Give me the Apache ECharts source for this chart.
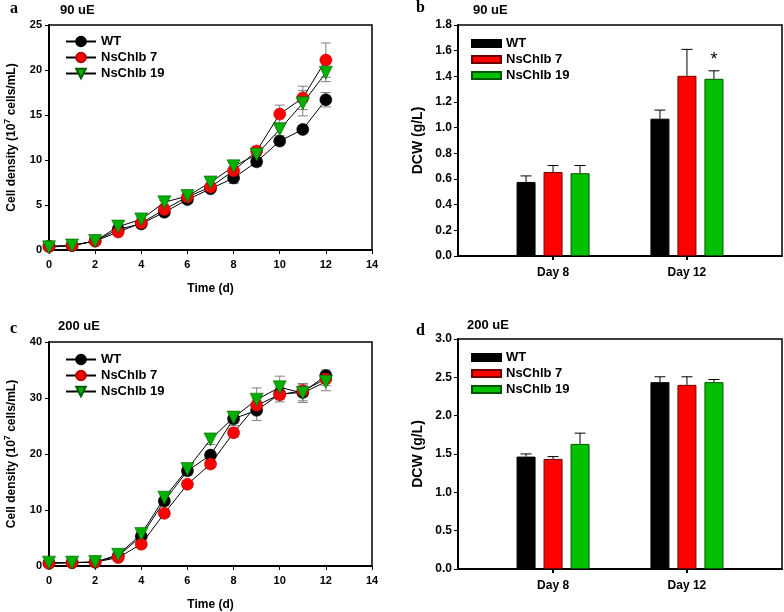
<!DOCTYPE html>
<html>
<head>
    <meta charset="UTF-8">
    <title>Growth and DCW</title>
    <style>
        html, body {
            height: 100%;
            width: 100%;
            margin: 0;
            padding: 0;
            background: #fff;
        }
    </style>
    <script src="https://cdn.jsdelivr.net/npm/echarts@6/dist/echarts.min.js"></script>
</head>
<body>
<div id="main" style="width: 784px; height: 612px;"></div>

<script type="text/javascript">
    // 时间轴 (d)
    var days = [0, 1, 2, 3, 4, 5, 6, 7, 8, 9, 10, 11, 12];
    var names = ['WT', 'NsChlb 7', 'NsChlb 19'];
    var dayCats = ['Day 8', 'Day 12'];

    // a: 90 uE cell density
    var wtA = [0.4, 0.5, 1.0, 2.3, 2.9, 4.2, 5.6, 6.8, 8.0, 9.8, 12.1, 13.4, 16.7];
    var n7A = [0.4, 0.5, 1.0, 2.0, 3.0, 4.5, 5.9, 7.0, 8.8, 11.0, 15.1, 16.9, 21.1];
    var n19A = [0.3, 0.5, 1.0, 2.6, 3.4, 5.3, 6.0, 7.5, 9.3, 10.6, 13.4, 16.3, 19.7];
    var wtAErr = [0.1, 0.1, 0.1, 0.2, 0.2, 0.3, 0.4, 0.3, 0.6, 0.5, 0.4, 0.3, 0.8];
    var n7AErr = [0.1, 0.1, 0.1, 0.2, 0.2, 0.3, 0.3, 0.3, 0.5, 0.5, 1.0, 1.3, 1.9];
    var n19AErr = [0.1, 0.1, 0.1, 0.2, 0.2, 0.2, 0.3, 0.4, 0.3, 0.4, 0.7, 1.4, 1.0];

    // c: 200 uE cell density
    var wtC = [0.5, 0.6, 0.7, 1.8, 5.3, 11.6, 17.0, 19.8, 26.3, 27.8, 30.7, 31.0, 34.0];
    var n7C = [0.5, 0.6, 0.7, 1.5, 3.9, 9.4, 14.6, 18.2, 23.8, 28.7, 30.6, 31.3, 33.4];
    var n19C = [0.6, 0.6, 0.7, 2.0, 5.7, 12.2, 17.3, 22.6, 26.5, 29.7, 31.9, 30.9, 32.9];
    var wtCErr = [0.2, 0.2, 0.2, 0.3, 0.5, 0.6, 0.8, 0.7, 1.2, 1.8, 1.0, 1.5, 1.0];
    var n7CErr = [0.2, 0.2, 0.2, 0.3, 0.4, 0.5, 0.6, 0.6, 0.8, 1.2, 1.3, 1.0, 1.2];
    var n19CErr = [0.2, 0.2, 0.2, 0.3, 0.5, 0.6, 0.7, 0.9, 1.0, 2.1, 2.0, 1.7, 1.6];

    // b: 90 uE DCW
    var wtB = [0.577, 1.07];
    var n7B = [0.655, 1.404];
    var n19B = [0.645, 1.381];
    var wtBErr = [0.047, 0.067];
    var n7BErr = [0.05, 0.206];
    var n19BErr = [0.06, 0.062];
    var n19BSig = ['', '*'];

    // d: 200 uE DCW
    var wtD = [1.466, 2.437];
    var n7D = [1.436, 2.402];
    var n19D = [1.632, 2.437];
    var wtDErr = [0.035, 0.07];
    var n7DErr = [0.03, 0.105];
    var n19DErr = [0.14, 0.035];

    var FONT = 'Liberation Sans, Arial, sans-serif';
    var BAR_W = 19, BAR_GAP = 8;
    var lineColors = ['#000000', '#ff0000', '#00b000'];
    var lineBorders = ['#000000', '#b00000', '#006000'];
    var barColors = ['#000000', '#ff0000', '#00c000'];
    var barBorders = ['#000000', '#700000', '#005500'];

    function pts(vals) {
        return days.map(function (d, i) { return [d, vals[i]]; });
    }

    function errData(vals, errs) {
        return days.map(function (d, i) { return [d, vals[i], errs[i]]; });
    }

    // 误差线 (上下)
    function lineErr(params, api) {
        var x = api.value(0), y = api.value(1), e = api.value(2);
        var hi = api.coord([x, y + e]);
        var lo = api.coord([x, y - e]);
        var w = 5;
        var st = {stroke: '#808080', lineWidth: 1};
        return {
            type: 'group',
            children: [
                {type: 'line', shape: {x1: hi[0], y1: hi[1], x2: lo[0], y2: lo[1]}, style: st},
                {type: 'line', shape: {x1: hi[0] - w, y1: hi[1], x2: hi[0] + w, y2: hi[1]}, style: st},
                {type: 'line', shape: {x1: lo[0] - w, y1: lo[1], x2: lo[0] + w, y2: lo[1]}, style: st}
            ]
        };
    }

    // 柱状图误差线 (只画上半部分)
    function barErr(k) {
        return function (params, api) {
            var x = api.value(0), y = api.value(1), e = api.value(2);
            var sig = api.value(3);
            var off = (k - 1) * (BAR_W + BAR_GAP);
            var top = api.coord([x, y]);
            var hi = api.coord([x, y + e]);
            var cx = top[0] + off;
            var w = 5.5;
            var st = {stroke: '#000', lineWidth: 1};
            var children = [
                {type: 'line', shape: {x1: cx, y1: top[1], x2: cx, y2: hi[1]}, style: st},
                {type: 'line', shape: {x1: cx - w, y1: hi[1], x2: cx + w, y2: hi[1]}, style: st}
            ];
            if (sig === 1) {
                children.push({
                    type: 'text',
                    style: {
                        x: cx, y: hi[1] - 2, text: '*', fill: '#000',
                        font: '18px ' + FONT, textAlign: 'center', textVerticalAlign: 'bottom'
                    }
                });
            }
            return {type: 'group', children: children};
        };
    }

    function barErrData(vals, errs, sig) {
        return vals.map(function (v, i) {
            return [i + 1, v, errs[i], sig && sig[i] ? 1 : 0];
        });
    }

    var axisLabelStyle = {color: '#000', fontFamily: FONT, fontWeight: 'bold', fontSize: 11};
    var axisNameStyle = {color: '#000', fontFamily: FONT, fontWeight: 'bold', fontSize: 12};

    function timeAxis(gi) {
        return {
            type: 'value', gridIndex: gi, min: 0, max: 14, interval: 2,
            name: 'Time (d)', nameLocation: 'middle', nameGap: 33,
            nameTextStyle: axisNameStyle,
            axisLine: {show: true, lineStyle: {color: '#000', width: 2}},
            axisTick: {show: true, inside: false, length: 4, lineStyle: {color: '#000'}},
            axisLabel: Object.assign({margin: 9}, axisLabelStyle),
            splitLine: {show: false}
        };
    }

    function densAxis(gi, max, step) {
        return {
            type: 'value', gridIndex: gi, min: 0, max: max, interval: step,
            name: '{n|Cell density (10}{s|7}{n| cells/mL)}',
            nameLocation: 'middle', nameGap: 28,
            nameTextStyle: {
                rich: {
                    n: {fontFamily: FONT, fontWeight: 'bold', fontSize: 12, color: '#000', lineHeight: 18},
                    s: {fontFamily: FONT, fontWeight: 'bold', fontSize: 9, color: '#000', lineHeight: 9, verticalAlign: 'top'}
                }
            },
            axisLine: {show: true, lineStyle: {color: '#000', width: 2}},
            axisTick: {show: true, length: 4, lineStyle: {color: '#000'}},
            axisLabel: Object.assign({margin: 7}, axisLabelStyle),
            splitLine: {show: false}
        };
    }

    function dayAxis(gi) {
        return {
            type: 'value', gridIndex: gi, min: 0.29, max: 2.71,
            axisLine: {show: true, lineStyle: {color: '#000', width: 2}},
            axisTick: {show: true, length: 4, lineStyle: {color: '#000', width: 2}, customValues: [1, 2]},
            axisLabel: Object.assign({
                margin: 11, fontSize: 12, customValues: [1, 2],
                formatter: function (v) { return dayCats[Math.round(v) - 1]; }
            }, {color: '#000', fontFamily: FONT, fontWeight: 'bold'}),
            splitLine: {show: false}
        };
    }

    function dcwAxis(gi, max, step) {
        return {
            type: 'value', gridIndex: gi, min: 0, max: max, interval: step,
            name: 'DCW (g/L)', nameLocation: 'middle', nameGap: 33,
            nameTextStyle: {color: '#000', fontFamily: FONT, fontWeight: 'bold', fontSize: 14},
            axisLine: {show: true, lineStyle: {color: '#000', width: 2}},
            axisTick: {show: true, length: 4, lineStyle: {color: '#000'}},
            axisLabel: {
                margin: 6, color: '#000', fontFamily: FONT, fontWeight: 'bold', fontSize: 12,
                formatter: function (v) { return v.toFixed(1); }
            },
            splitLine: {show: false}
        };
    }

    function lineSeries(idx, vals, gi) {
        var tri = idx === 2;
        return {
            name: names[idx], type: 'line', xAxisIndex: gi, yAxisIndex: gi,
            data: pts(vals), z: 3,
            symbol: tri ? 'triangle' : 'circle',
            symbolRotate: tri ? 180 : 0,
            symbolSize: tri ? 13 : 12,
            lineStyle: {color: '#000', width: 1},
            itemStyle: {color: lineColors[idx], borderColor: lineBorders[idx], borderWidth: 0.6},
            emphasis: {disabled: true}
        };
    }

    function lineErrSeries(vals, errs, gi) {
        return {
            type: 'custom', xAxisIndex: gi, yAxisIndex: gi, z: 1,
            renderItem: lineErr, data: errData(vals, errs), silent: true
        };
    }

    function barSeries(idx, vals, gi) {
        return {
            name: names[idx] + ' ', type: 'bar', xAxisIndex: gi, yAxisIndex: gi,
            data: vals.map(function (v, i) { return [i + 1, v]; }),
            barWidth: BAR_W, barGap: (BAR_GAP / BAR_W * 100) + '%',
            itemStyle: {color: barColors[idx], borderColor: barBorders[idx], borderWidth: 1},
            emphasis: {disabled: true}
        };
    }

    function barErrSeries(k, vals, errs, gi, sig) {
        return {
            type: 'custom', xAxisIndex: gi, yAxisIndex: gi, z: 4,
            renderItem: barErr(k), data: barErrData(vals, errs, sig), silent: true
        };
    }

    function letter(t, l, top) {
        return {text: t, left: l, top: top, padding: 0,
            textStyle: {fontFamily: 'Liberation Serif, Times New Roman, serif', fontWeight: 'bold', fontSize: 16, color: '#000'}};
    }

    function heading(t, l, top) {
        return {text: t, left: l, top: top, padding: 0,
            textStyle: {fontFamily: FONT, fontWeight: 'bold', fontSize: 13, color: '#000'}};
    }

    function lineLegend(top) {
        return {
            data: names, orient: 'vertical', left: 65, top: top,
            itemWidth: 30, itemHeight: 12, itemGap: 3, padding: 0,
            textStyle: {fontFamily: FONT, fontWeight: 'bold', fontSize: 13, color: '#000'},
            selectedMode: false
        };
    }

    function barLegend(top) {
        return {
            data: names.map(function (n) { return n + ' '; }),
            formatter: function (n) { return n.trim(); },
            orient: 'vertical', left: 471, top: top, icon: 'rect',
            itemWidth: 29, itemHeight: 7, itemGap: 3, padding: 0,
            textStyle: {fontFamily: FONT, fontWeight: 'bold', fontSize: 13, color: '#000'},
            selectedMode: false
        };
    }

    var myChart = echarts.init(document.getElementById('main'), null, {renderer: 'canvas'});
    var option = {
        backgroundColor: '#fff',
        animation: false,
        title: [
            letter('a', 10, 1), heading('90 uE', 60, 4),
            letter('b', 416, 0), heading('90 uE', 473, 4),
            letter('c', 10, 321), heading('200 uE', 58, 320),
            letter('d', 416, 323), heading('200 uE', 467, 319)
        ],
        legend: [lineLegend(35), barLegend(37), lineLegend(353), barLegend(351)],
        grid: [
            {left: 49, top: 25, width: 323, height: 225, show: true, borderColor: '#000', borderWidth: 1.5},
            {left: 458, top: 25, width: 324, height: 231, show: true, borderColor: '#000', borderWidth: 1.5},
            {left: 49, top: 342, width: 323, height: 226, show: true, borderColor: '#000', borderWidth: 1.5},
            {left: 458, top: 339, width: 324, height: 230, show: true, borderColor: '#000', borderWidth: 1.5}
        ],
        xAxis: [timeAxis(0), dayAxis(1), timeAxis(2), dayAxis(3)],
        yAxis: [densAxis(0, 25, 5), dcwAxis(1, 1.8, 0.2), densAxis(2, 40, 10), dcwAxis(3, 3, 0.5)],
        series: [
            lineErrSeries(wtA, wtAErr, 0), lineErrSeries(n7A, n7AErr, 0), lineErrSeries(n19A, n19AErr, 0),
            lineSeries(0, wtA, 0), lineSeries(1, n7A, 0), lineSeries(2, n19A, 0),

            barSeries(0, wtB, 1), barSeries(1, n7B, 1), barSeries(2, n19B, 1),
            barErrSeries(0, wtB, wtBErr, 1), barErrSeries(1, n7B, n7BErr, 1), barErrSeries(2, n19B, n19BErr, 1, n19BSig),

            lineErrSeries(wtC, wtCErr, 2), lineErrSeries(n7C, n7CErr, 2), lineErrSeries(n19C, n19CErr, 2),
            lineSeries(0, wtC, 2), lineSeries(1, n7C, 2), lineSeries(2, n19C, 2),

            barSeries(0, wtD, 3), barSeries(1, n7D, 3), barSeries(2, n19D, 3),
            barErrSeries(0, wtD, wtDErr, 3), barErrSeries(1, n7D, n7DErr, 3), barErrSeries(2, n19D, n19DErr, 3)
        ]
    };
    myChart.setOption(option);
</script>
</body>
</html>
